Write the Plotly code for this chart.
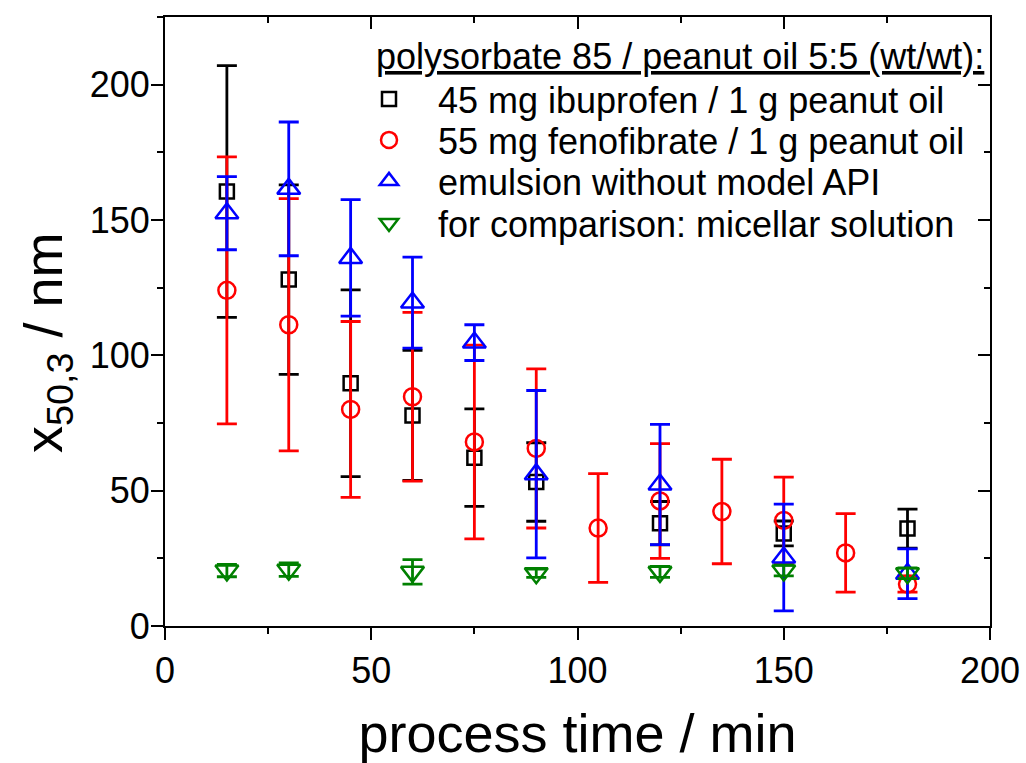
import plotly.graph_objects as go

# ---- data ----
x_ibu = [15, 30, 45, 60, 75, 90, 120, 150, 180]
y_ibu = [160.5, 128.0, 89.7, 77.8, 62.2, 53.2, 38.0, 34.2, 36.0]
e_ibu = [46.5, 35.0, 34.5, 24.0, 18.0, 14.5, 8.0, 4.6, 7.2]

x_feno = [15, 30, 45, 60, 75, 90, 105, 120, 135, 150, 165, 180]
y_feno = [124.0, 111.3, 80.0, 84.7, 68.0, 65.6, 36.2, 46.2, 42.3, 39.0, 27.0, 15.5]
e_feno = [49.3, 46.6, 32.5, 31.2, 35.8, 29.4, 20.1, 21.2, 19.3, 16.0, 14.5, 3.0]

x_emu = [15, 30, 45, 60, 75, 90, 120, 150, 180]
y_emu = [152.5, 161.5, 136.0, 119.5, 104.7, 56.1, 52.3, 25.3, 19.3]
e_emu = [13.5, 24.7, 21.5, 16.8, 6.6, 30.9, 22.2, 19.7, 9.2]

x_mic = [15, 30, 60, 90, 120, 150, 180]
y_mic = [20.5, 20.8, 20.0, 19.5, 20.0, 20.5, 19.5]
e_mic = [2.3, 2.5, 4.5, 1.5, 2.0, 2.0, 2.0]

legend_title = "polysorbate 85 / peanut oil 5:5 (wt/wt):"
series_names = [
    "45 mg ibuprofen / 1 g peanut oil",
    "55 mg fenofibrate / 1 g peanut oil",
    "emulsion without model API",
    "for comparison: micellar solution",
]
series_colors = ["black", "red", "blue", "green"]
series_symbols = ["square-open", "circle-open", "triangle-up-open", "triangle-down-open"]
series_sizes = [14, 17, 20, 20]
series_data = [(x_ibu, y_ibu, e_ibu), (x_feno, y_feno, e_feno),
               (x_emu, y_emu, e_emu), (x_mic, y_mic, e_mic)]

x_title = "process time / min"
y_title = "x<sub>50,3</sub> / nm"

FONT = "Liberation Sans, Arial, sans-serif"
W, H = 1026, 763
ML, MR, MT, MB = 165, 36, 17, 137
PW, PH = W - ML - MR, H - MT - MB


def px_to_paper_x(px):
    return (px - ML) / PW


def px_to_paper_y(py):
    return 1 - (py - MT) / PH


legend_keys = ["legend", "legend2", "legend3", "legend4"]
legend_rows_px = [99, 140, 181, 223]

fig = go.Figure()
for i, (name, (xs, ys, es)) in enumerate(zip(series_names, series_data)):
    col = series_colors[i]
    fig.add_trace(go.Scatter(
        x=xs, y=ys, mode="markers", name=name, legend=legend_keys[i],
        marker=dict(symbol=series_symbols[i], size=series_sizes[i], color=col,
                    line=dict(color=col, width=2.5)),
        error_y=dict(type="data", array=es, visible=True, color=col, thickness=2.8, width=10),
    ))

# dummy trace to register mirror axes (top/right, inward ticks)
fig.add_trace(go.Scatter(x=[None], y=[None], xaxis="x2", yaxis="y2",
                         showlegend=False, hoverinfo="skip"))

layout_legends = {}
for key, py in zip(legend_keys, legend_rows_px):
    layout_legends[key] = dict(
        x=px_to_paper_x(340), xanchor="left",
        y=px_to_paper_y(py), yanchor="middle",
        bgcolor="rgba(0,0,0,0)", borderwidth=0,
        font=dict(size=36, family=FONT, color="black"),
        itemwidth=88,
    )

fig.update_layout(
    width=W, height=H,
    margin=dict(l=ML, r=MR, t=MT, b=MB, autoexpand=False),
    paper_bgcolor="white", plot_bgcolor="white",
    font=dict(family=FONT, color="black"),
    showlegend=True,
    **layout_legends,
    annotations=[
        dict(text="<u>" + legend_title + "</u>",
             xref="paper", yref="paper", x=px_to_paper_x(374), y=px_to_paper_y(56),
             xanchor="left", yanchor="middle", showarrow=False,
             font=dict(size=36, family=FONT, color="black")),
        dict(text=y_title, textangle=-90,
             xref="paper", yref="paper", x=px_to_paper_x(47), y=px_to_paper_y(343),
             xanchor="center", yanchor="middle", showarrow=False,
             font=dict(size=54, family=FONT, color="black")),
    ],
    xaxis=dict(
        range=[0, 200], tickmode="linear", tick0=0, dtick=50,
        ticks="outside", ticklen=12,
        minor=dict(tickmode="linear", tick0=0, dtick=25, ticks="outside", ticklen=6,
                   tickcolor="black", tickwidth=2, showgrid=False),
        tickfont=dict(size=36, family=FONT, color="black"),
        title=dict(text=x_title, font=dict(size=54, family=FONT, color="black"),
                   standoff=24),
        automargin=False,
        showgrid=False, zeroline=False, showline=True,
        linecolor="black", linewidth=2, tickcolor="black", tickwidth=2,
    ),
    yaxis=dict(
        range=[0, 225], tickmode="linear", tick0=0, dtick=50,
        ticks="outside", ticklen=12,
        minor=dict(tickmode="linear", tick0=0, dtick=25, ticks="outside", ticklen=6,
                   tickcolor="black", tickwidth=2, showgrid=False),
        tickfont=dict(size=36, family=FONT, color="black"),
        ticklabelstandoff=-6,
        automargin=False,
        showgrid=False, zeroline=False, showline=True,
        linecolor="black", linewidth=2, tickcolor="black", tickwidth=2,
    ),
    xaxis2=dict(
        range=[0, 200], overlaying="x", side="top", anchor="y2",
        tickmode="linear", tick0=0, dtick=50, ticks="inside", ticklen=12,
        minor=dict(tickmode="linear", tick0=0, dtick=25, ticks="inside", ticklen=6,
                   tickcolor="black", tickwidth=2, showgrid=False),
        showticklabels=False, showgrid=False, zeroline=False, showline=True,
        linecolor="black", linewidth=2, tickcolor="black", tickwidth=2,
    ),
    yaxis2=dict(
        range=[0, 225], overlaying="y", side="right", anchor="x2",
        tickmode="linear", tick0=0, dtick=50, ticks="inside", ticklen=12,
        minor=dict(tickmode="linear", tick0=0, dtick=25, ticks="inside", ticklen=6,
                   tickcolor="black", tickwidth=2, showgrid=False),
        showticklabels=False, showgrid=False, zeroline=False, showline=True,
        linecolor="black", linewidth=2, tickcolor="black", tickwidth=2,
    ),
)

fig.write_html("out.html")
